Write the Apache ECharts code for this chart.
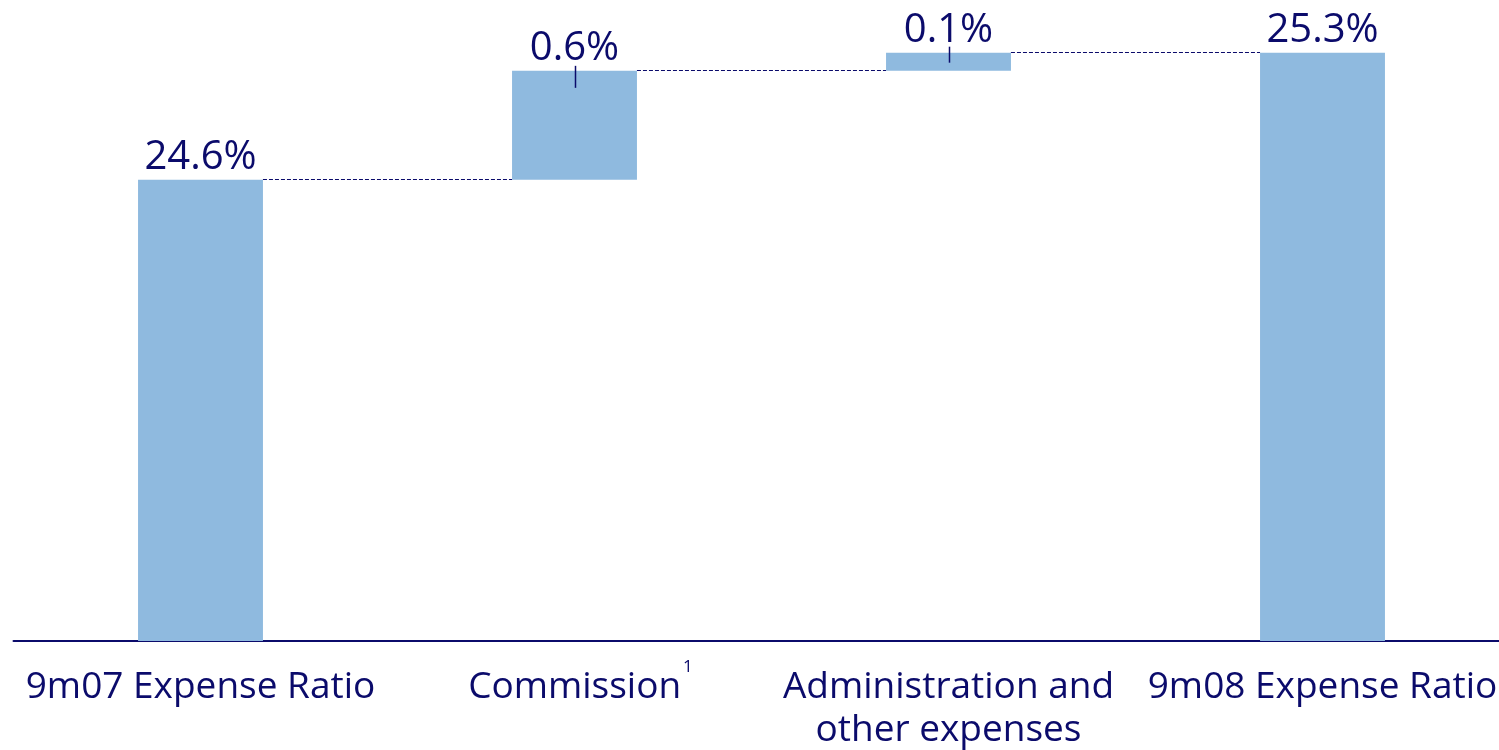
<!DOCTYPE html>
<html>
<head>
<meta charset="utf-8">
<script src="https://cdn.jsdelivr.net/npm/echarts@6/dist/echarts.min.js"></script>
<style>
html,body{margin:0;padding:0;background:#fff;overflow:hidden;}
#chart{width:1499px;height:750px;}
</style>
</head>
<body>
<div id="chart"></div>
<script>
const categories = ['9m07 Expense Ratio', 'Commission', 'Administration and\nother expenses', '9m08 Expense Ratio'];
const footnotes = ['', '1', '', ''];
const baseValues = [0, 24.6, 25.2, 0];
const changeValues = [24.6, 0.6, 0.1, 25.3];
const valueLabels = ['24.6%', '0.6%', '0.1%', '25.3%'];
const connectorLevels = [24.6, 25.2, 25.3];
const markerTops = [[1, 25.2], [2, 25.3]];

const NAVY = '#0b0b6b';
const BAR = '#8fbadf';
const BAR_RATIO = 0.334;
const FONT = 'Open Sans';

const chart = echarts.init(document.getElementById('chart'));
chart.setOption({
  animation: false,
  grid: { left: 13.5, width: 1496, top: 20, bottom: 109, containLabel: false, outerBoundsMode: 'none' },
  xAxis: {
    type: 'category',
    data: categories,
    axisLine: { lineStyle: { color: NAVY, width: 2 } },
    axisTick: { show: false },
    axisLabel: {
      interval: 0,
      margin: 25,
      color: NAVY,
      fontFamily: FONT,
      fontSize: 37,
      lineHeight: 43,
      formatter: function (v, i) {
        const fn = footnotes[i];
        if (fn) return '{p|' + v + '}{s|' + fn + '}';
        return v;
      },
      rich: {
        p: { fontFamily: FONT, fontSize: 37, lineHeight: 43, color: NAVY, padding: [0, 0, 0, 12] },
        s: { fontFamily: FONT, fontSize: 17, lineHeight: 2, color: NAVY, verticalAlign: 'top', padding: [-7, 0, 0, 2] }
      }
    }
  },
  yAxis: { type: 'value', min: 22.06, max: 25.48, show: false, splitLine: { show: false } },
  series: [
    {
      name: 'base', type: 'bar', stack: 'w', barWidth: (BAR_RATIO * 100) + '%',
      itemStyle: { color: 'transparent' }, data: baseValues, silent: true
    },
    {
      name: 'change', type: 'bar', stack: 'w', barWidth: (BAR_RATIO * 100) + '%',
      itemStyle: { color: BAR }, data: changeValues,
      label: {
        show: true, position: 'top', distance: 2,
        color: NAVY, fontFamily: FONT, fontSize: 40,
        formatter: function (p) { return valueLabels[p.dataIndex]; }
      }
    },
    {
      type: 'custom', clip: false, z: 5,
      data: connectorLevels.map(function (v, i) { return [i, v]; }),
      renderItem: function (params, api) {
        const p = api.coord([api.value(0), api.value(1)]);
        const band = api.size([1, 0])[0];
        const half = band * BAR_RATIO / 2;
        const y = Math.round(p[1]) - 0.5;
        return { type: 'line', shape: { x1: p[0] + half, y1: y, x2: p[0] + band - half, y2: y },
          style: { stroke: NAVY, lineWidth: 1, lineDash: [4, 2] } };
      }
    },
    {
      type: 'custom', clip: false, z: 5,
      data: markerTops,
      renderItem: function (params, api) {
        const p = api.coord([api.value(0), api.value(1)]);
        const ext = params.dataIndex === 0 ? [-5, 17] : [-6, 10];
        const x = Math.round(p[0]) + 0.5;
        return { type: 'line', shape: { x1: x, y1: p[1] + ext[0], x2: x, y2: p[1] + ext[1] },
          style: { stroke: NAVY, lineWidth: 1.5 } };
      }
    }
  ]
});
</script>
</body>
</html>
